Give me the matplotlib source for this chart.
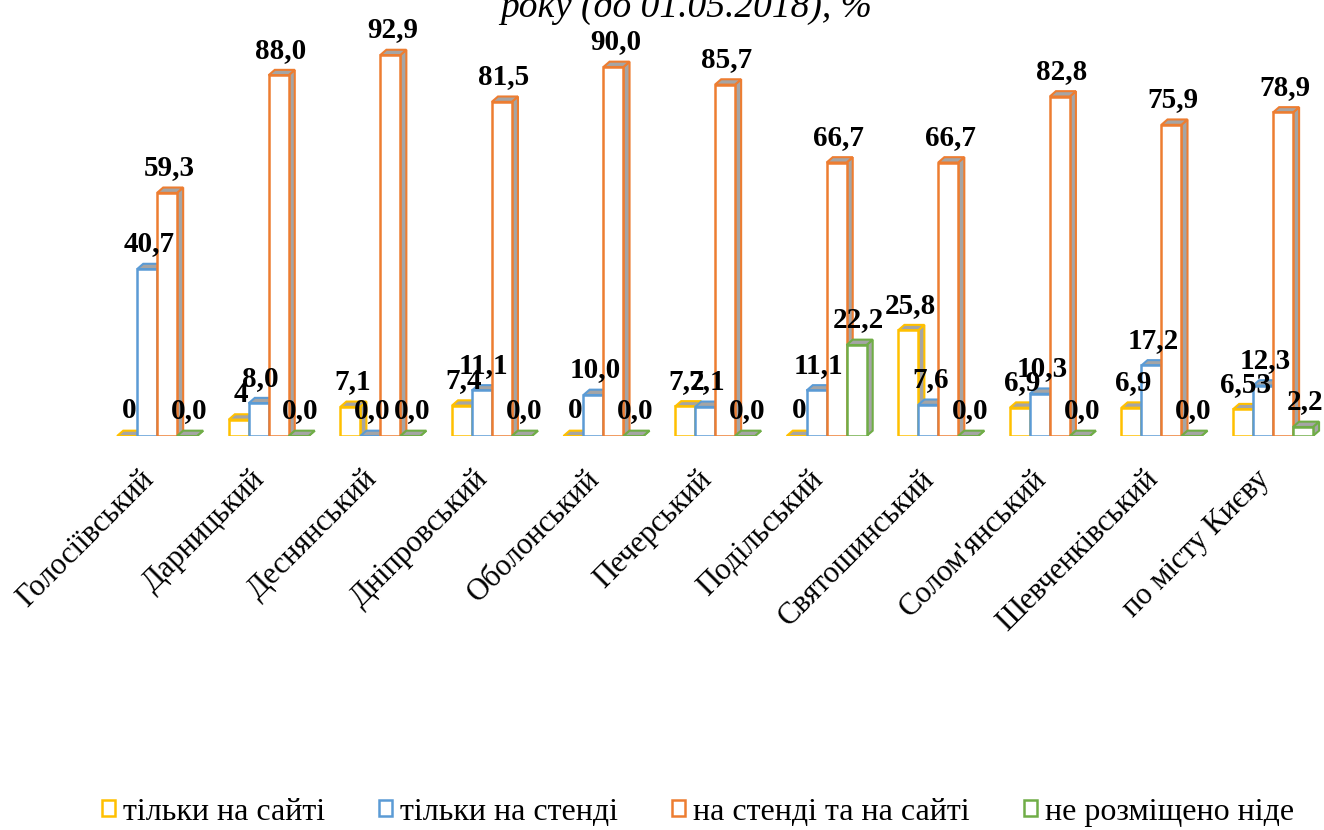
import numpy as np
import matplotlib.pyplot as plt
from matplotlib.patches import Polygon, Patch
from matplotlib.transforms import ScaledTranslation

plt.rcParams['font.family'] = ['Liberation Serif', 'DejaVu Serif']

districts = ['Голосіївський', 'Дарницький', 'Деснянський', 'Дніпровський', 'Оболонський',
             'Печерський', 'Подільський', 'Святошинський', "Солом'янський", 'Шевченківський',
             'по місту Києву']
series_names = ['тільки на сайті', 'тільки на стенді', 'на стенді та на сайті', 'не розміщено ніде']

only_site = [0, 4, 7.1, 7.4, 0, 7.2, 0, 25.8, 6.9, 6.9, 6.53]
only_stand = [40.7, 8.0, 0.0, 11.1, 10.0, 7.1, 11.1, 7.6, 10.3, 17.2, 12.3]
stand_and_site = [59.3, 88.0, 92.9, 81.5, 90.0, 85.7, 66.7, 66.7, 82.8, 75.9, 78.9]
nowhere = [0.0, 0.0, 0.0, 0.0, 0.0, 0.0, 22.2, 0.0, 0.0, 0.0, 2.2]

site_labels = ['0', '4', '7,1', '7,4', '0', '7,2', '0', '25,8', '6,9', '6,9', '6,53']
stand_labels = ['40,7', '8,0', '0,0', '11,1', '10,0', '7,1', '11,1', '7,6', '10,3', '17,2', '12,3']
both_labels = ['59,3', '88,0', '92,9', '81,5', '90,0', '85,7', '66,7', '66,7', '82,8', '75,9', '78,9']
none_labels = ['0,0', '0,0', '0,0', '0,0', '0,0', '0,0', '22,2', '0,0', '0,0', '0,0', '2,2']

colors = ['#FFC000', '#5B9BD5', '#ED7D31', '#70AD47']
side_gray = '#A5A5A5'

series = [only_site, only_stand, stand_and_site, nowhere]
labels = [site_labels, stand_labels, both_labels, none_labels]

fig = plt.figure(figsize=(13.24, 8.30), dpi=100)
ax = fig.add_axes([0.0807, 0.4747, 0.9187, 0.494])
ax.set_xlim(-0.45, 10.45)
ax.set_ylim(0, 100)

x = np.arange(len(districts))
w = 0.179
dx = 0.055   # depth offset in x
dy = 1.3     # depth offset in y

for g in range(len(districts)):
    for i in range(4):
        h = series[i][g]
        x0 = x[g] - 2 * w + i * w
        z = 2 + i * 3
        col = colors[i]
        side = Polygon([(x0 + w, 0), (x0 + w + dx, dy), (x0 + w + dx, h + dy), (x0 + w, h)],
                       closed=True, facecolor=side_gray, edgecolor=col, lw=1.5, zorder=z)
        top = Polygon([(x0, h), (x0 + dx, h + dy), (x0 + w + dx, h + dy), (x0 + w, h)],
                      closed=True, facecolor=side_gray, edgecolor=col, lw=1.5, zorder=z + 1)
        ax.add_patch(side)
        ax.add_patch(top)
        ax.bar(x0 + w / 2, h, width=w, color='white', edgecolor=col, lw=1.8, zorder=z + 2)
        ax.text(x0 + w / 2 + dx / 3, h + dy + 3.0, labels[i][g], ha='center', va='baseline',
                fontsize=21, fontweight='bold', zorder=30)

for s in ax.spines.values():
    s.set_visible(False)
ax.set_yticks([])
ax.set_xticks(x)
ax.set_xticklabels(districts, rotation=45, ha='right', va='center', rotation_mode='anchor',
                   fontsize=22)
ax.tick_params(axis='x', length=0, pad=28)
shift = ScaledTranslation(-8 / 100, 0, fig.dpi_scale_trans)
for lab in ax.get_xticklabels():
    lab.set_transform(lab.get_transform() + shift)

fig.text(686 / 1324, 1 - 17 / 830, 'року (до 01.05.2018), %', ha='center', va='baseline',
         fontsize=27, style='italic')

handles = [Patch(facecolor='white', edgecolor=c, lw=1.8) for c in colors]
fig.legend(handles, series_names, loc='center', bbox_to_anchor=(0.527, 1 - 812 / 830),
           ncol=4, frameon=False, fontsize=23, handlelength=0.4, handleheight=0.4,
           handletextpad=0.25, columnspacing=1.7, borderpad=0)

fig.savefig('out.png', dpi=100)
